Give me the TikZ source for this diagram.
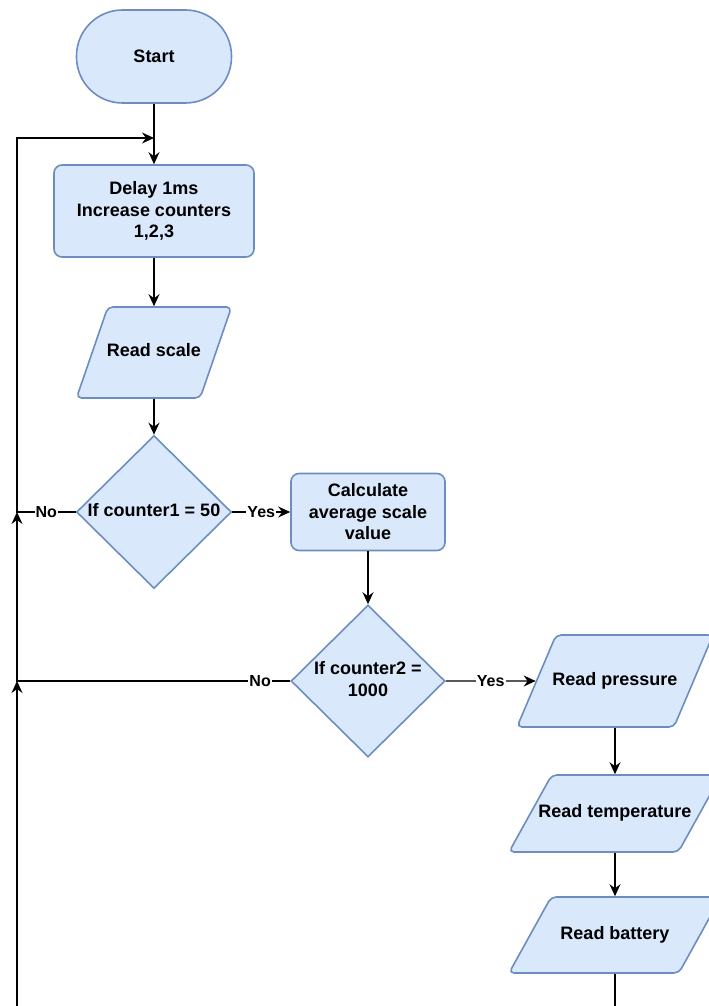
\documentclass[tikz,border=0pt]{standalone}
\usepackage{fontspec}
\setmainfont{Liberation Sans}
\usetikzlibrary{shapes.geometric,arrows.meta}
\definecolor{boxfill}{HTML}{DAE8FC}
\definecolor{boxline}{HTML}{6C8EBF}
% text kept from widening the shape
\newcommand{\dtext}[1]{\makebox[0pt]{\begin{tabular}{@{}c@{}}#1\end{tabular}}}
\tikzset{
  base/.style={draw=boxline, fill=boxfill, line width=1.6pt, inner sep=2pt,
    align=center, font=\fontsize{18}{21.5}\selectfont\bfseries},
  terminal/.style={base, rounded corners=46pt, minimum width=155pt, minimum height=93pt},
  process/.style={base, rounded corners=8pt},
  io/.style={base, trapezium, trapezium stretches body=true, rounded corners=5pt,
    text height=13pt, text depth=4pt, inner ysep=#1},
  decision/.style={base, diamond, inner sep=0pt},
  flow/.style={line width=1.3pt, -{Stealth[length=12pt,width=11pt,inset=4pt]}},
  lbl/.style={fill=white, inner sep=1pt, font=\fontsize{16}{18}\selectfont\bfseries}
}
\begin{document}
\begin{tikzpicture}[x=1pt,y=-1pt]
\useasboundingbox (0,0) rectangle (709,1006);
\clip (0,0) rectangle (709,1006);
% Main column
\node[terminal] (start) at (154,56.5) {Start};
\node[process, minimum width=200pt, minimum height=92pt] (delay) at (154,211)
  {Delay 1ms\\Increase counters\\1,2,3};
\node[io=37pt, minimum width=155pt,
  trapezium left angle=71, trapezium right angle=109] (scale) at (154,352.5) {\dtext{Read scale}};
\node[decision, minimum width=155pt, minimum height=153pt] (count1) at (154,512)
  {\dtext{If counter1 = 50}};
% Middle column
\node[process, minimum width=154pt, minimum height=77pt] (average) at (368,512)
  {Calculate\\average scale\\value};
\node[decision, minimum width=154pt, minimum height=152pt] (count2) at (368,681)
  {\dtext{If counter2 =\\1000}};
% Right column
\node[io=37.5pt, minimum width=196pt,
  trapezium left angle=67, trapezium right angle=113] (pressure) at (615,681) {\dtext{Read pressure}};
\node[io=30pt, minimum width=212pt,
  trapezium left angle=61, trapezium right angle=119] (temperature) at (615,813.5) {\dtext{Read temperature}};
\node[io=29.5pt, minimum width=212pt,
  trapezium left angle=61, trapezium right angle=119] (battery) at (615,935) {\dtext{Read battery}};
% Loop back rail
\coordinate (rail) at (17,0);
\coordinate (merge) at (154,138);
\coordinate (bottom) at (615,1040);
% Arrows
\draw[flow] (start) -- (delay);
\draw[flow] (delay) -- (scale);
\draw[flow] (scale) -- (count1);
\draw[flow] (count1) -- node[lbl]{Yes} (average);
\draw[flow] (count1.west) -- node[lbl]{No} (count1.west -| rail) |- (merge);
\draw[flow] (average) -- (count2);
\draw[flow] (count2) -- node[lbl]{Yes} (pressure);
\draw[flow] (count2.west) -- node[lbl,pos=.11]{No} (count2.west -| rail) -- (count1.west -| rail);
\draw[flow] (pressure) -- (temperature);
\draw[flow] (temperature) -- (battery);
\draw[flow] (battery) -- (bottom) -| (count2.west -| rail);
\end{tikzpicture}
\end{document}
